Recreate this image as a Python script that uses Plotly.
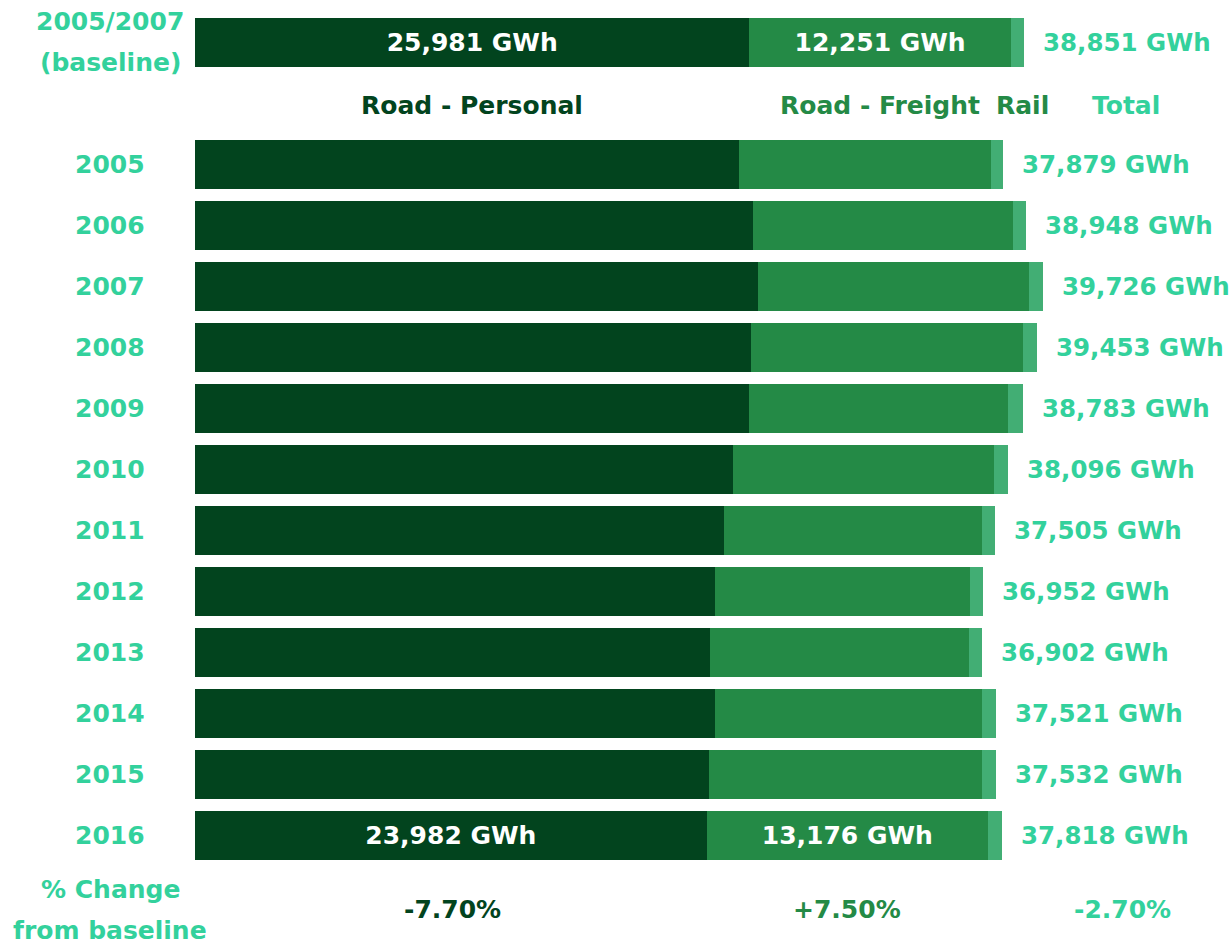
import plotly.graph_objects as go

# colours
c_personal = '#02441E'
c_freight = '#248A46'
c_rail = '#42AE74'
c_teal = '#33D19C'

years = ['2005', '2006', '2007', '2008', '2009', '2010',
         '2011', '2012', '2013', '2014', '2015', '2016']
personal = [25493, 26149, 26383, 26055, 25961, 25211, 24790, 24368, 24134, 24368, 24087, 23982]
freight = [11809, 12184, 12700, 12746, 12137, 12231, 12090, 11950, 12137, 12512, 12793, 13176]
rail = [577, 615, 643, 652, 685, 654, 625, 634, 631, 641, 652, 660]
totals = [37879, 38948, 39726, 39453, 38783, 38096, 37505, 36952, 36902, 37521, 37532, 37818]

# 2005/2007 baseline
base_personal = 25981
base_freight = 12251
base_rail = 619
base_total = 38851

headers = ['Road - Personal', 'Road - Freight', 'Rail', 'Total']
changes = ['-7.70%', '+7.50%', '-2.70%']

# row positions: baseline on top, a header row, then the years
ypos = [0] + [i + 2 for i in range(len(years))]
all_personal = [base_personal] + personal
all_freight = [base_freight] + freight
all_rail = [base_rail] + rail
all_totals = [base_total] + totals

def inside_text(vals):
    return [f'{v:,} GWh' if i in (0, len(vals) - 1) else '' for i, v in enumerate(vals)]

FONT = 'DejaVu Sans'
FS = 25
bar_w = 0.79

fig = go.Figure()
for name, vals, col, txt in [('Road - Personal', all_personal, c_personal, inside_text(all_personal)),
                             ('Road - Freight', all_freight, c_freight, inside_text(all_freight)),
                             ('Rail', all_rail, c_rail, None)]:
    fig.add_trace(go.Bar(
        x=vals, y=ypos, orientation='h', name=name, width=bar_w,
        marker=dict(color=col, line=dict(width=0)),
        text=txt, textposition='inside' if txt else 'none', insidetextanchor='middle',
        textangle=0, constraintext='none',
        textfont=dict(family=FONT, size=FS, color='white', weight='bold'),
        hoverinfo='x+name'))

ann = []
bold = dict(family=FONT, size=FS, weight='bold')

# totals to the right of each bar
for y, t in zip(ypos, all_totals):
    ann.append(dict(x=t, y=y, xref='x', yref='y', text=f'{t:,} GWh', showarrow=False,
                    xanchor='left', xshift=17,
                    font=dict(family=FONT, size=24.5, weight='bold', color=c_teal)))

# left labels
lx = (110 - 195) / 1036
for y, yr in zip(ypos[1:], years):
    ann.append(dict(x=lx, y=y, xref='paper', yref='y', text=yr, showarrow=False,
                    xanchor='center', font=dict(**bold, color=c_teal)))
for y, t in [(-0.34, '2005/2007'), (0.33, '(baseline)'), (13.88, '% Change'), (14.55, 'from baseline')]:
    ann.append(dict(x=lx, y=y, xref='paper', yref='y', text=t, showarrow=False,
                    xanchor='center', font=dict(**bold, color=c_teal)))

# header row
hx = [base_personal / 2, base_personal + base_freight / 2,
      base_personal + base_freight + base_rail / 2, base_total]
hshift = [0, 0, 5, 102]
hcol = [c_personal, c_freight, c_freight, c_teal]
for x, t, s, c in zip(hx, headers, hshift, hcol):
    ann.append(dict(x=x, y=1.04, xref='x', yref='y', text=t, showarrow=False,
                    xanchor='center', xshift=s, font=dict(**bold, color=c)))

# % change row
cx = [12090, 30560, 43490]
ccol = [c_personal, c_freight, c_teal]
for x, t, c in zip(cx, changes, ccol):
    ann.append(dict(x=x, y=14.22, xref='x', yref='y', text=t, showarrow=False,
                    xanchor='center', font=dict(**bold, color=c)))

fig.update_layout(
    width=1231, height=945,
    margin=dict(l=195, r=0, t=0, b=0),
    barmode='stack',
    showlegend=False,
    plot_bgcolor='white', paper_bgcolor='white',
    xaxis=dict(visible=False, range=[0, 1036 / 0.021338]),
    yaxis=dict(visible=False, range=[14.795, -0.697]),
    annotations=ann,
)
# drop the default page margin so the figure sits at the window's corner
fig.write_html('out.html', config={'displayModeBar': False},
               post_script="document.body.style.margin='0';document.body.style.overflow='hidden';")
